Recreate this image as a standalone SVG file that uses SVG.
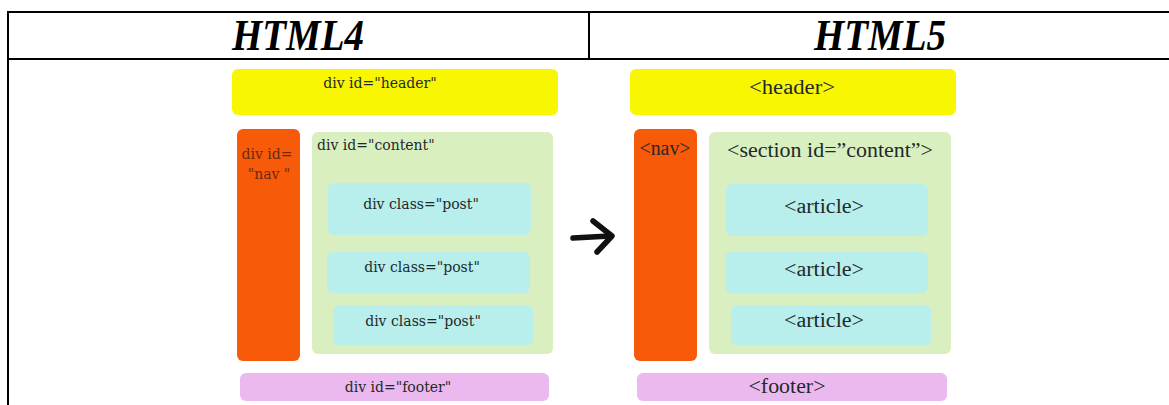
<svg xmlns="http://www.w3.org/2000/svg" width="1169" height="405" viewBox="0 0 1169 405">
<style>
.title{font-family:"Liberation Serif","DejaVu Serif",serif;font-weight:bold;font-style:italic;font-size:44px;fill:#000;text-anchor:middle}
.l4{font-family:"DejaVu Serif","Liberation Serif",serif;font-size:14px;fill:#1e2a2a}
.l5{font-family:"Liberation Serif","DejaVu Serif",serif;font-size:20px;fill:#1e2a2a;text-anchor:middle}
.c{text-anchor:middle}
.nt{fill:#6a2a12}
.hdr{fill:#f8f600}
.nav{fill:#f75a08}
.cnt{fill:#d9efc0}
.post{fill:#b8eeec}
.ftr{fill:#ecb9ef}
.grid{stroke:#000;stroke-width:2;fill:none}
</style>
<rect width="1169" height="405" fill="#fff"/>
<g id="table" class="grid">
<line x1="7" y1="12" x2="1169" y2="12"/>
<line x1="7" y1="59" x2="1169" y2="59"/>
<line x1="8" y1="11" x2="8" y2="405"/>
<line x1="589" y1="12" x2="589" y2="59"/>
</g>
<text class="title" x="298" y="50" textLength="132" lengthAdjust="spacingAndGlyphs">HTML4</text>
<text class="title" x="880" y="50" textLength="132" lengthAdjust="spacingAndGlyphs">HTML5</text>

<g id="h4-header"><rect class="hdr" x="232" y="69" width="326" height="46" rx="6"/><text class="l4 c" x="380" y="88">div id="header"</text></g>
<g id="h4-nav"><rect class="nav" x="237" y="129" width="63" height="232" rx="6"/><text class="l4 c nt" x="267" y="159">div id=</text><text class="l4 c nt" x="269" y="179">"nav "</text></g>
<g id="h4-content"><rect class="cnt" x="312" y="132" width="241" height="222" rx="6"/><text class="l4" x="317" y="150">div id="content"</text></g>
<g id="h4-post1"><rect class="post" x="328" y="183" width="203" height="52" rx="6"/><text class="l4 c" x="421" y="209">div class="post"</text></g>
<g id="h4-post2"><rect class="post" x="327" y="252" width="203" height="41" rx="6"/><text class="l4 c" x="422" y="272">div class="post"</text></g>
<g id="h4-post3"><rect class="post" x="333" y="305" width="200" height="40" rx="6"/><text class="l4 c" x="423" y="326">div class="post"</text></g>
<g id="h4-footer"><rect class="ftr" x="240" y="373" width="309" height="28" rx="6"/><text class="l4 c" x="398" y="392">div id="footer"</text></g>

<g id="connectors" stroke="#111" stroke-width="5.5" stroke-linecap="round" stroke-linejoin="round" fill="none">
<path d="M573 238 L610 236"/>
<path d="M593 221 L612 236 L597 252"/>
</g>

<g id="h5-header"><rect class="hdr" x="630" y="69" width="326" height="46" rx="6"/><text class="l5" x="792" y="94" textLength="86" lengthAdjust="spacingAndGlyphs">&lt;header&gt;</text></g>
<g id="h5-nav"><rect class="nav" x="634" y="129" width="63" height="232" rx="6"/><text class="l5" x="665" y="155" textLength="51" lengthAdjust="spacingAndGlyphs">&lt;nav&gt;</text></g>
<g id="h5-section"><rect class="cnt" x="709" y="132" width="242" height="222" rx="6"/><text class="l5" x="830" y="157" textLength="206" lengthAdjust="spacingAndGlyphs">&lt;section id=”content”&gt;</text></g>
<g id="h5-article1"><rect class="post" x="726" y="184" width="202" height="52" rx="6"/><text class="l5" x="824" y="213" textLength="80" lengthAdjust="spacingAndGlyphs">&lt;article&gt;</text></g>
<g id="h5-article2"><rect class="post" x="725" y="252" width="203" height="41" rx="6"/><text class="l5" x="824" y="276" textLength="80" lengthAdjust="spacingAndGlyphs">&lt;article&gt;</text></g>
<g id="h5-article3"><rect class="post" x="731" y="305" width="200" height="40" rx="6"/><text class="l5" x="824" y="327" textLength="80" lengthAdjust="spacingAndGlyphs">&lt;article&gt;</text></g>
<g id="h5-footer"><rect class="ftr" x="637" y="373" width="310" height="28" rx="6"/><text class="l5" x="787" y="393" textLength="77" lengthAdjust="spacingAndGlyphs">&lt;footer&gt;</text></g>
</svg>
